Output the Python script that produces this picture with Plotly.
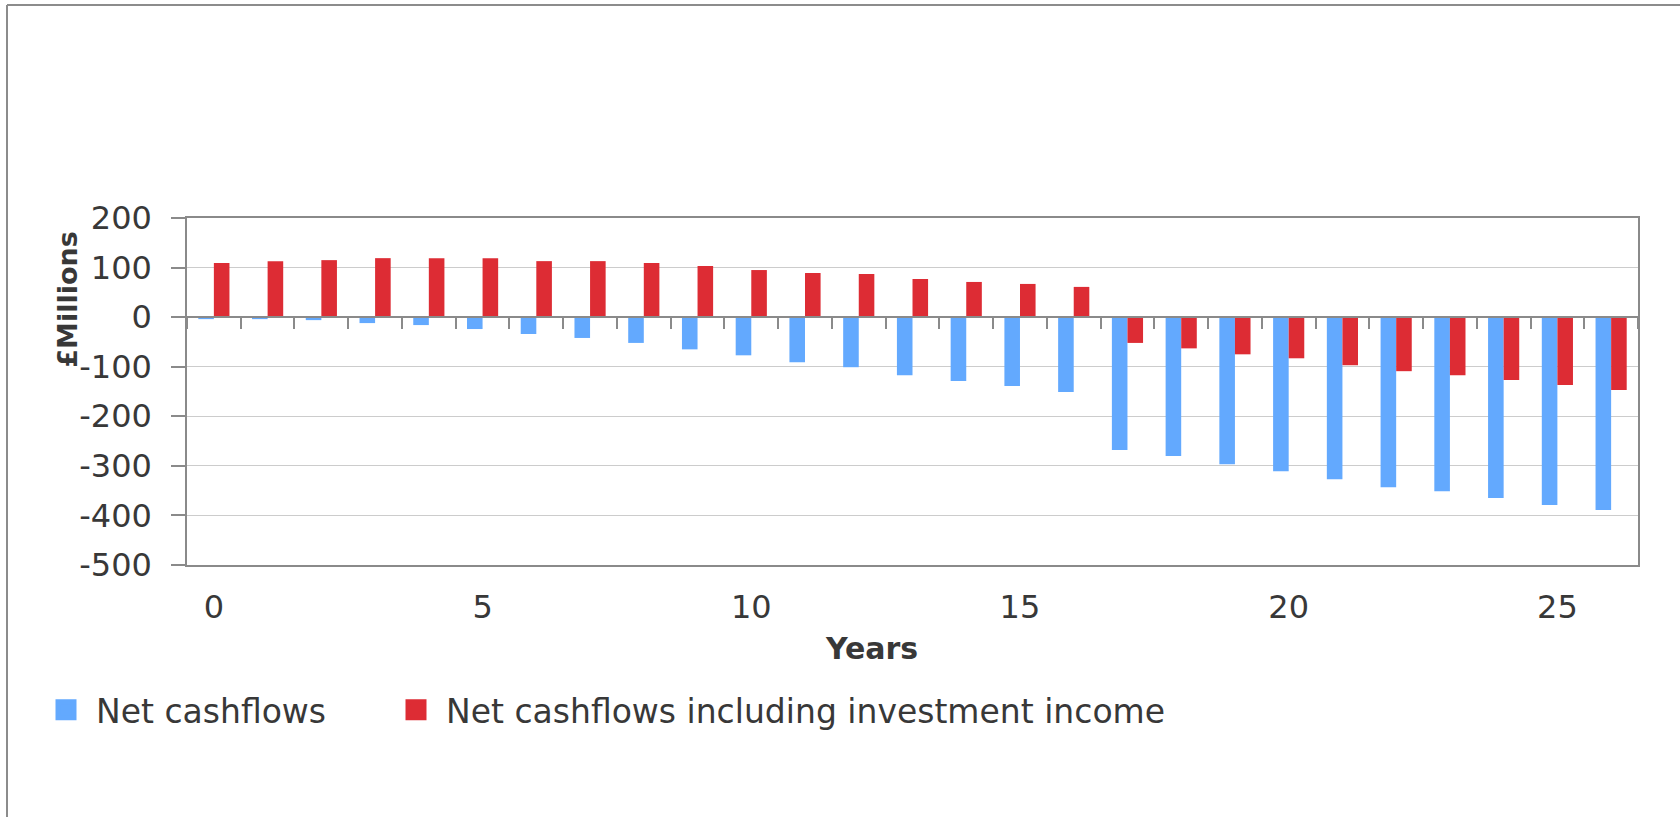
import plotly.graph_objects as go

years = list(range(27))
net_cashflows = [-4, -4, -6, -12, -16, -24, -34, -42, -52, -65, -77, -91, -101, -117,
                 -129, -139, -151, -268, -280, -297, -311, -327, -343, -351, -365, -379, -389]
net_with_income = [109, 113, 115, 119, 119, 119, 113, 113, 109, 103, 95, 89, 87, 77,
                   71, 67, 61, -52, -63, -75, -83, -97, -109, -117, -127, -137, -147]
series_names = ["Net cashflows", "Net cashflows including investment income"]
y_ticks = [-500, -400, -300, -200, -100, 0, 100, 200]
y_tick_labels = ["-500", "-400", "-300", "-200", "-100", "0", "100", "200"]
x_ticks = [0, 5, 10, 15, 20, 25]

BLUE = "#63A9FE"
RED = "#DD2C34"
TEXT = "#383838"
AXIS = "#8a8a8a"
GRID = "#cccccc"
FONT = "DejaVu Sans"

ymin, ymax = -500, 200
bw = 0.29

fig = go.Figure()
fig.add_trace(go.Bar(x=years, y=net_cashflows, name=series_names[0], marker_color=BLUE,
                     marker_line_width=0, width=bw, offset=-bw, showlegend=False))
fig.add_trace(go.Bar(x=years, y=net_with_income, name=series_names[1], marker_color=RED,
                     marker_line_width=0, width=bw, offset=0, showlegend=False))
# legend swatches (larger square keys)
fig.add_trace(go.Scatter(x=[None], y=[None], mode="markers", name=series_names[0],
                         marker=dict(symbol="square", size=16, color=BLUE,
                                     line=dict(color=BLUE, width=5)),
                         showlegend=True, legend="legend", hoverinfo="skip"))
fig.add_trace(go.Scatter(x=[None], y=[None], mode="markers", name=series_names[1],
                         marker=dict(symbol="square", size=16, color=RED,
                                     line=dict(color=RED, width=5)),
                         showlegend=True, legend="legend2", hoverinfo="skip"))

# category-boundary tick marks on the zero line
fig.add_trace(go.Scatter(x=[None], y=[None], xaxis="x2", showlegend=False, hoverinfo="skip"))

legend_common = dict(orientation="h", xanchor="left", y=-0.417, yanchor="middle",
                     font=dict(size=33, color=TEXT, family=FONT), itemwidth=50,
                     itemsizing="trace", bgcolor="rgba(0,0,0,0)")

fig.update_layout(
    width=1680, height=817,
    margin=dict(l=187, r=42, t=218, b=252),
    paper_bgcolor="white", plot_bgcolor="white",
    barmode="overlay",
    font=dict(family=FONT, color=TEXT, size=32),
    xaxis=dict(range=[-0.5, 26.5], tickvals=x_ticks, ticks="", showgrid=False,
               showline=True, mirror=True, linecolor=AXIS, linewidth=1.5,
               tickfont=dict(size=32, color=TEXT, family=FONT), ticklabelstandoff=13,
               zeroline=False),
    xaxis2=dict(overlaying="x", matches="x", anchor="free",
                position=(0 - ymin) / (ymax - ymin), side="bottom",
                tickvals=[i - 0.5 for i in range(28)], ticks="outside", ticklen=11,
                tickcolor=AXIS, tickwidth=1.5, showticklabels=False, showgrid=False,
                showline=True, linecolor=AXIS, linewidth=1.5, zeroline=False),
    yaxis=dict(range=[ymin, ymax], tickvals=y_ticks, ticktext=y_tick_labels,
               ticks="outside", ticklen=14, tickcolor=AXIS, tickwidth=1.5,
               showgrid=True, gridcolor=GRID, gridwidth=1.3,
               showline=True, mirror=True, linecolor=AXIS, linewidth=1.5,
               zeroline=False, tickfont=dict(size=32, color=TEXT, family=FONT),
               ticklabelstandoff=13),
    legend=dict(x=(36 - 187) / 1451, **legend_common),
    legend2=dict(x=(386 - 187) / 1451, **legend_common),
    annotations=[
        dict(text="<b>£Millions</b>", textangle=-90, xref="paper", yref="paper",
             x=-0.082, y=0.7646, showarrow=False, xanchor="center", yanchor="middle",
             font=dict(size=27, color=TEXT, family=FONT)),
        dict(text="<b>Years</b>", xref="paper", yref="paper", x=0.472, y=-0.241,
             showarrow=False, xanchor="center", yanchor="middle",
             font=dict(size=30, color=TEXT, family=FONT)),
    ],
    shapes=[
        dict(type="line", xref="paper", yref="paper", x0=(7 - 187) / 1451, x1=1.1,
             y0=(565 - 5) / 347, y1=(565 - 5) / 347, line=dict(color="#8c8c8c", width=2)),
        dict(type="line", xref="paper", yref="paper", x0=(7 - 187) / 1451, x1=(7 - 187) / 1451,
             y0=(565 - 5) / 347, y1=-1, line=dict(color="#8c8c8c", width=2)),
    ],
)

fig.write_html("out.html")
